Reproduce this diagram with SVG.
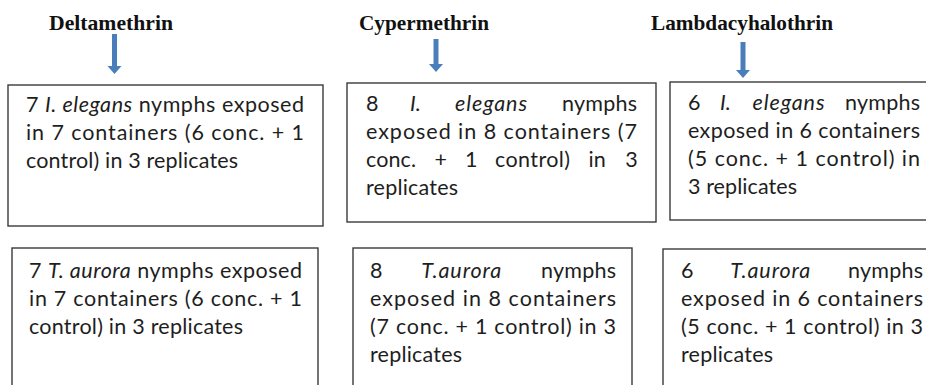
<svg xmlns="http://www.w3.org/2000/svg" width="926" height="385" viewBox="0 0 926 385">
<style>
.title{font-family:"Liberation Serif","Times New Roman",serif;font-weight:bold;font-size:21px;fill:#111}
.box{fill:#fff;stroke:#3a3a3a;stroke-width:1.4}
.t{font-family:Lato,"Open Sans",sans-serif;font-size:21.5px;fill:#1e1e1e}
.i{font-style:italic}
.conn{stroke:#4a7ebb;stroke-width:5;fill:none}
</style>
<defs>
<marker id="ah" markerUnits="userSpaceOnUse" markerWidth="10" markerHeight="16" viewBox="0 -8 10 16" refX="0" refY="0" orient="auto">
<path d="M0,-7 L8,0 L0,7 z" fill="#4a7ebb"/>
</marker>
</defs>
<rect width="926" height="385" fill="#fff"/>

<g id="title-deltamethrin"><text class="title" x="49" y="30" textLength="124" lengthAdjust="spacingAndGlyphs">Deltamethrin</text></g>
<g id="title-cypermethrin"><text class="title" x="359" y="30" textLength="130" lengthAdjust="spacingAndGlyphs">Cypermethrin</text></g>
<g id="title-lambdacyhalothrin"><text class="title" x="651" y="30" textLength="182" lengthAdjust="spacingAndGlyphs">Lambdacyhalothrin</text></g>

<g id="connectors">
<line class="conn" x1="114.5" y1="34" x2="114.5" y2="66" marker-end="url(#ah)"/>
<line class="conn" x1="436" y1="39" x2="436" y2="64" marker-end="url(#ah)"/>
<line class="conn" x1="743" y1="42" x2="743" y2="70" marker-end="url(#ah)"/>
</g>

<g id="delta-elegans">
<rect class="box" x="8" y="85" width="315" height="141"/>
<text class="t" x="26" y="112" textLength="278" lengthAdjust="spacing">7 <tspan class="i">I. elegans</tspan> nymphs exposed</text>
<text class="t" x="26" y="140" textLength="278" lengthAdjust="spacing">in 7 containers (6 conc. + 1</text>
<text class="t" x="26" y="168" textLength="212" lengthAdjust="spacing">control) in 3 replicates</text>
</g>

<g id="cyper-elegans">
<rect class="box" x="347" y="83" width="309" height="139"/>
<text class="t" y="111"><tspan x="366">8</tspan><tspan class="i" x="410">I.</tspan><tspan class="i" x="455" textLength="72" lengthAdjust="spacing">elegans</tspan><tspan x="562" textLength="75" lengthAdjust="spacing">nymphs</tspan></text>
<text class="t" x="366" y="139" textLength="271" lengthAdjust="spacing">exposed in 8 containers (7</text>
<text class="t" y="167"><tspan x="366" textLength="50" lengthAdjust="spacing">conc.</tspan><tspan x="434.5">+</tspan><tspan x="465">1</tspan><tspan x="495" textLength="75" lengthAdjust="spacing">control)</tspan><tspan x="588.5">in</tspan><tspan x="625.2">3</tspan></text>
<text class="t" x="366" y="195" textLength="92" lengthAdjust="spacing">replicates</text>
</g>

<g id="lambda-elegans">
<rect class="box" x="670" y="82" width="280" height="138"/>
<text class="t" y="110"><tspan x="688">6</tspan><tspan class="i" x="720">I.</tspan><tspan class="i" x="752.5" textLength="72" lengthAdjust="spacing">elegans</tspan><tspan x="845" textLength="75" lengthAdjust="spacing">nymphs</tspan></text>
<text class="t" x="688" y="138" textLength="232" lengthAdjust="spacing">exposed in 6 containers</text>
<text class="t" x="688" y="166" textLength="232" lengthAdjust="spacing">(5 conc. + 1 control) in</text>
<text class="t" x="688" y="194" textLength="109" lengthAdjust="spacing">3 replicates</text>
</g>

<g id="delta-aurora">
<rect class="box" x="12" y="248" width="306" height="160"/>
<text class="t" x="29" y="278" textLength="273" lengthAdjust="spacing">7 <tspan class="i">T. aurora</tspan> nymphs exposed</text>
<text class="t" x="29" y="306" textLength="273" lengthAdjust="spacing">in 7 containers (6 conc. + 1</text>
<text class="t" x="29" y="334" textLength="214" lengthAdjust="spacing">control) in 3 replicates</text>
</g>

<g id="cyper-aurora">
<rect class="box" x="353" y="248" width="279" height="160"/>
<text class="t" y="278"><tspan x="370">8</tspan><tspan class="i" x="421.3" textLength="80" lengthAdjust="spacing">T.aurora</tspan><tspan x="541" textLength="75" lengthAdjust="spacing">nymphs</tspan></text>
<text class="t" x="370" y="306" textLength="246" lengthAdjust="spacing">exposed in 8 containers</text>
<text class="t" x="370" y="334" textLength="246" lengthAdjust="spacing">(7 conc. + 1 control) in 3</text>
<text class="t" x="370" y="362" textLength="92" lengthAdjust="spacing">replicates</text>
</g>

<g id="lambda-aurora">
<rect class="box" x="663" y="249" width="290" height="160"/>
<text class="t" y="278"><tspan x="681">6</tspan><tspan class="i" x="730.3" textLength="80" lengthAdjust="spacing">T.aurora</tspan><tspan x="848" textLength="75" lengthAdjust="spacing">nymphs</tspan></text>
<text class="t" x="681" y="306" textLength="242" lengthAdjust="spacing">exposed in 6 containers</text>
<text class="t" x="681" y="334" textLength="242" lengthAdjust="spacing">(5 conc. + 1 control) in 3</text>
<text class="t" x="681" y="362" textLength="92" lengthAdjust="spacing">replicates</text>
</g>
</svg>
